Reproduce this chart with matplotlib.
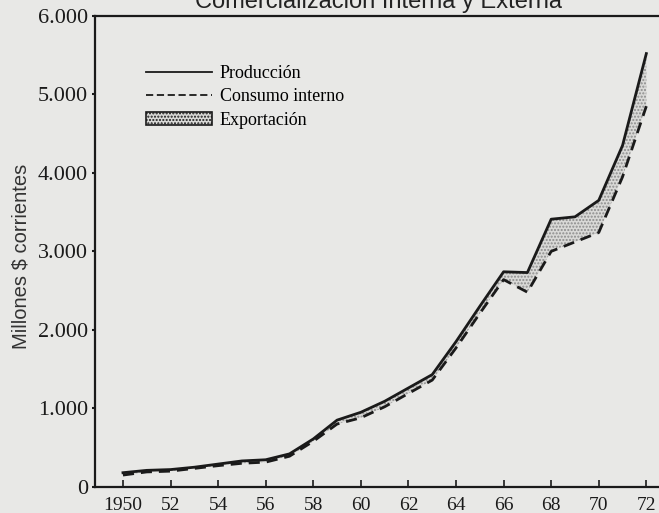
import matplotlib.pyplot as plt
from matplotlib.lines import Line2D
from matplotlib.patches import Patch
from matplotlib.ticker import FuncFormatter

# values (millones $ corrientes)
years = list(range(1950, 1973))
produccion = [180, 210, 220, 250, 290, 330, 345, 420, 610, 850, 950, 1090, 1260, 1430,
              1850, 2300, 2740, 2730, 3410, 3440, 3650, 4350, 5520]
consumo = [150, 190, 200, 235, 270, 300, 315, 390, 580, 800, 880, 1020, 1190, 1360,
           1770, 2210, 2640, 2480, 3000, 3120, 3240, 3950, 4850]

x_ticks = list(range(1950, 1973, 2))
x_labels = ['1950'] + [str(y)[2:] for y in x_ticks[1:]]

paper = '#e8e8e6'
ink = '#1a1a1a'
serif = 'Liberation Serif'

fig = plt.figure(figsize=(6.59, 5.13), dpi=100, facecolor=paper)
ax = fig.add_axes([0.144, 0.051, 0.87, 0.918], facecolor=paper)

# export = area between production and internal consumption
ax.fill_between(years, consumo, produccion, facecolor='#d9d9d7', edgecolor='#8c8c8c',
                hatch='.....', linewidth=0)
ax.plot(years, produccion, color=ink, linewidth=2.0)
ax.plot(years, consumo, color=ink, linewidth=2.0, linestyle=(0, (4, 2.5)))

ax.set_xlim(1948.82, 1972.92)
ax.set_ylim(0, 6000)

ax.set_xticks(x_ticks)
ax.set_xticklabels(x_labels, fontfamily=serif, fontsize=14)
ax.set_yticks(range(0, 6001, 1000))
ax.yaxis.set_major_formatter(FuncFormatter(lambda v, p: '0' if v == 0 else f'{int(v):,}'.replace(',', '.')))
for lbl in ax.get_yticklabels():
    lbl.set_fontfamily(serif)
    lbl.set_fontsize(16)

ax.tick_params(axis='x', direction='in', length=5, width=1.2, pad=7, colors=ink)
ax.tick_params(axis='y', direction='out', length=2, width=1.5, pad=3, colors=ink)

for side in ['left', 'bottom', 'top']:
    ax.spines[side].set_linewidth(1.6)
    ax.spines[side].set_color(ink)
ax.spines['right'].set_visible(False)

ax.set_ylabel('Millones $ corrientes', fontfamily='Liberation Sans', fontsize=14.5,
              color='#333333')
ax.yaxis.set_label_coords(-0.112, 0.49)

handles = [Line2D([], [], color=ink, linewidth=1.3),
           Line2D([], [], color=ink, linewidth=1.3, linestyle=(0, (4, 2))),
           Patch(facecolor='#d9d9d7', edgecolor=ink, hatch='.....', linewidth=1.2)]
ax.legend(handles, ['Producción', 'Consumo interno', 'Exportación'],
          loc='upper left', bbox_to_anchor=(0.06, 0.93), frameon=False,
          handlelength=3.7, handletextpad=0.4, labelspacing=0.35,
          prop={'family': serif, 'size': 13})

# title is cut off by the top edge of the scan
fig.text(0.575, 0.997, 'Comercialización Interna y Externa', ha='center', va='center',
         fontfamily='Liberation Sans', fontsize=17, color='#222222')

fig.savefig('out.png', dpi=100, facecolor=paper)
